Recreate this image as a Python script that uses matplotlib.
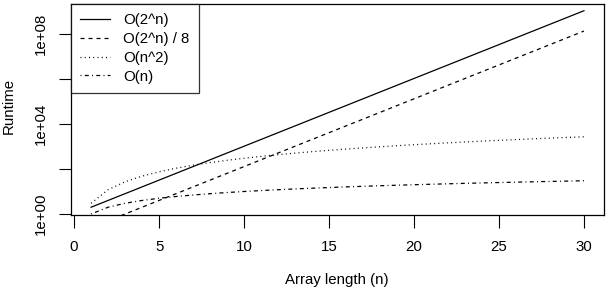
import matplotlib
matplotlib.use("Agg")
from matplotlib import pyplot as plt
from matplotlib.ticker import FixedLocator, NullLocator

plt.rcParams['font.family'] = ['Liberation Sans', 'DejaVu Sans']

# array lengths
n = [1, 2, 3, 4, 5, 6, 7, 8, 9, 10, 11, 12, 13, 14, 15,
     16, 17, 18, 19, 20, 21, 22, 23, 24, 25, 26, 27, 28, 29, 30]

# runtimes
exp_rt = [2, 4, 8, 16, 32, 64, 128, 256, 512, 1024, 2048, 4096, 8192, 16384,
          32768, 65536, 131072, 262144, 524288, 1048576, 2097152, 4194304,
          8388608, 16777216, 33554432, 67108864, 134217728, 268435456,
          536870912, 1073741824]
exp8_rt = [0.25, 0.5, 1, 2, 4, 8, 16, 32, 64, 128, 256, 512, 1024, 2048,
           4096, 8192, 16384, 32768, 65536, 131072, 262144, 524288, 1048576,
           2097152, 4194304, 8388608, 16777216, 33554432, 67108864, 134217728]
quad_rt = [3, 12, 27, 48, 75, 108, 147, 192, 243, 300, 363, 432, 507, 588,
           675, 768, 867, 972, 1083, 1200, 1323, 1452, 1587, 1728, 1875,
           2028, 2187, 2352, 2523, 2700]
lin_rt = [1, 2, 3, 4, 5, 6, 7, 8, 9, 10, 11, 12, 13, 14, 15,
          16, 17, 18, 19, 20, 21, 22, 23, 24, 25, 26, 27, 28, 29, 30]

labels = ['O(2^n)', 'O(2^n) / 8', 'O(n^2)', 'O(n)']
xticks = [0, 5, 10, 15, 20, 25, 30]
yticks = [1e0, 1e2, 1e4, 1e6, 1e8]
ytick_labels = ['1e+00', '', '1e+04', '', '1e+08']

fig = plt.figure(figsize=(6.08, 2.88), dpi=100)
ax = fig.add_axes([71/608, 1 - 215/288, (604 - 71)/608, (215 - 4)/288])

lw = 0.9
ax.plot(n, exp_rt, color='black', lw=lw, linestyle='-', label=labels[0])
ax.plot(n, exp8_rt, color='black', lw=lw, linestyle=(0, (3.2, 3.2)), label=labels[1])
ax.plot(n, quad_rt, color='black', lw=lw, linestyle=(0, (0.8, 2.6)), label=labels[2])
ax.plot(n, lin_rt, color='black', lw=lw, linestyle=(0, (0.8, 2.6, 3.2, 2.6)), label=labels[3])

ax.set_yscale('log')
ax.set_xlim(-0.18, 31.18)
ax.set_ylim(10 ** -0.044, 10 ** 9.33)

ax.xaxis.set_major_locator(FixedLocator(xticks))
ax.set_xticklabels([str(t) for t in xticks])
ax.yaxis.set_major_locator(FixedLocator(yticks))
ax.yaxis.set_minor_locator(NullLocator())
ax.set_yticklabels(ytick_labels, rotation=90, va='center')

ax.tick_params(axis='both', direction='out', length=9, width=0.8,
               labelsize=10.8, color='black')
ax.tick_params(axis='x', pad=9)
ax.tick_params(axis='y', pad=8)
for s in ax.spines.values():
    s.set_linewidth(0.9)

fig.text(337/608, 1 - 280/288, 'Array length (n)', ha='center', va='center', fontsize=10.8)
fig.text(9/608, 1 - 106/288, 'Runtime', ha='center', va='center', rotation=90, fontsize=10.8)

leg = ax.legend(loc='upper left', bbox_to_anchor=(0, 1), borderaxespad=0,
                fontsize=10.8, frameon=True, fancybox=False, edgecolor='black',
                handlelength=2.0, handletextpad=0.85, borderpad=0.62,
                labelspacing=0.32)
leg.get_frame().set_linewidth(0.9)

fig.savefig('out.png', dpi=100)
